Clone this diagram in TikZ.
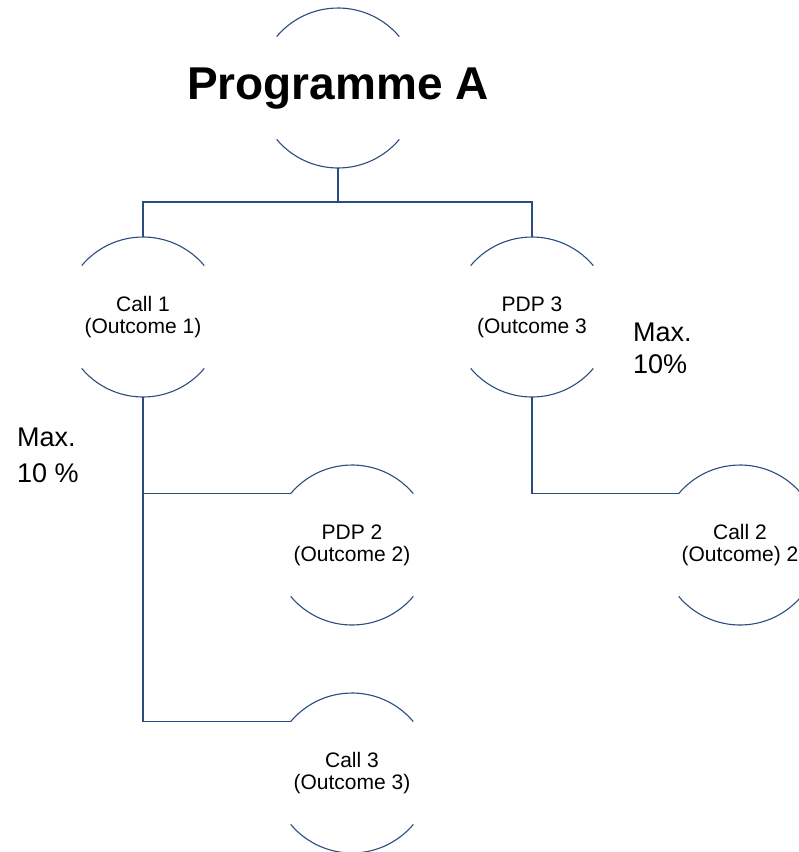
\documentclass[tikz,border=0pt]{standalone}
\usepackage{fontspec}
\setmainfont{Liberation Sans}
\definecolor{linenavy}{HTML}{2B4C7E}
\begin{document}
\begin{tikzpicture}[x=1pt,y=1pt,
  ring/.style={circle, minimum size=160pt, inner sep=0pt, outer sep=0pt, align=center, font=\fontsize{21}{22}\selectfont},
  link/.style={draw=linenavy, line width=1.1pt},
  note/.style={align=left, anchor=base west, inner sep=0pt}]
\clip (0,0) rectangle (799,-852);
\node[ring, font=\bfseries\fontsize{46}{50}\selectfont] (prog) at (338,-88) {\raisebox{-11pt}[0pt][0pt]{\makebox[0pt]{Programme A}}};
\node[ring] (call1) at (143,-317) {Call 1\\(Outcome 1)};
\node[ring] (pdp3) at (532,-317) {PDP 3\\(Outcome 3};
\node[ring] (pdp2) at (352,-545) {PDP 2\\(Outcome 2)};
\node[ring] (call2) at (740,-545) {Call 2\\(Outcome) 2};
\node[ring] (call3) at (352,-773) {Call 3\\(Outcome 3)};
\foreach \n in {prog,call1,pdp3,pdp2,call2,call3}{
  \draw[link] (\n.40) arc[start angle=40,end angle=140,radius=80pt];
  \draw[link] (\n.220) arc[start angle=220,end angle=320,radius=80pt];
}
\draw[link] (prog.south) -- ++(0,-34) coordinate (split);
\draw[link] (call1.north) |- (split) -| (pdp3.north);
\draw[link] (call1.south) |- (pdp2.140);
\draw[link] (call1.south) |- (call3.140);
\draw[link] (pdp3.south) |- (call2.140);
\node[note, font=\fontsize{27}{36}\selectfont] (maxl) at (17,-482.7) {Max.\\10 \%};
\node[note, font=\fontsize{27}{32}\selectfont] (maxr) at (633,-373.3) {Max.\\10\%};
\end{tikzpicture}
\end{document}
